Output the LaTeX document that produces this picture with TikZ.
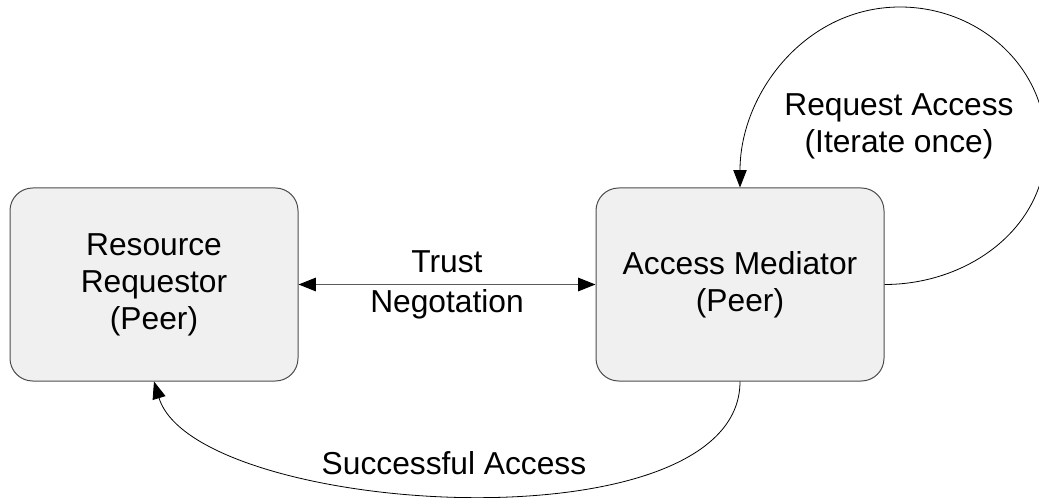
\documentclass[tikz,border=0pt]{standalone}
\usepackage{fontspec}
\setmainfont{Liberation Sans}
\usetikzlibrary{arrows.meta}
\tikzset{
	peer/.style={draw=black!70,fill=black!6,line width=0.75pt,rounded corners=17pt,minimum width=216pt,minimum height=144.75pt,align=center,inner sep=0pt},
	lbl/.style={align=center,inner sep=0pt},
	flow/.style={line width=0.6pt},
}
\begin{document}
\begin{tikzpicture}[x=0.75pt,y=0.75pt,>={Triangle[length=13pt,width=10pt,color=black]},font=\fontsize{23.8}{27.75}\selectfont]
		\useasboundingbox (0,0) rectangle (1039,497);
		\node[peer] (rr) at (154,212.5) {Resource\\Requestor\\(Peer)};
		\node[peer] (am) at (740,212.5) {Access Mediator\\(Peer)};
		\draw[<->,draw=black!65,line width=1.2pt] (rr) -- (am) node[midway,above=8pt,lbl] (trust) {Trust} node[midway,below=3pt,lbl] (nego) {Negotation};
		% loop on the mediator
		\coordinate (loopR) at (1046,352);
		\coordinate (loopT) at (900,490);
		\draw[->,flow] (am.east) to[out=0,in=-90] (loopR) to[out=90,in=0] (loopT) to[out=180,in=90] (am.north);
		\node[lbl] (req) at (899,371) {Request Access\\(Iterate once)};
		% back to the requestor
		\draw[->,flow] (am.south) .. controls +(0,-170) and +(41,-134) .. (rr.south);
		\node[lbl] (succ) at (454,33.5) {Successful Access};
	\end{tikzpicture}
\end{document}
